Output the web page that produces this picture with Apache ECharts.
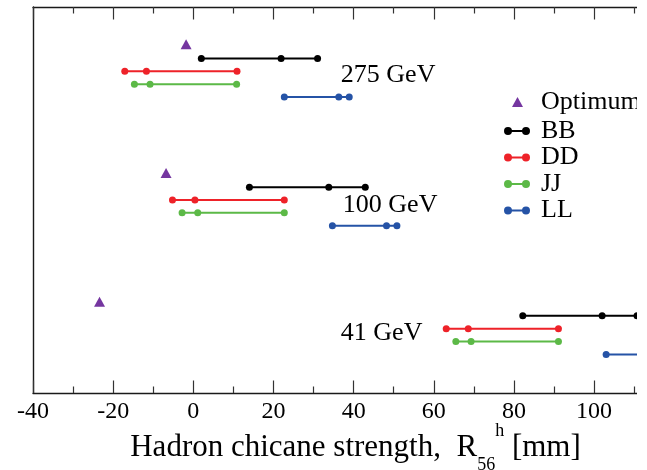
<!DOCTYPE html>
<html>
<head>
<meta charset="utf-8">
<script src="https://cdn.jsdelivr.net/npm/echarts@6/dist/echarts.min.js"></script>
<style>
  html, body { margin: 0; padding: 0; background: #fff; }
  #chart { width: 647px; height: 470px; }
</style>
</head>
<body>
<div id="chart"></div>
<script>
const xMin = -40;
const xMax = 110.7;
const majorTicks = [-40, -20, 0, 20, 40, 60, 80, 100];
const minorTicks = [-30, -10, 10, 30, 50, 70, 90, 110];

// beam energy groups, top to bottom
const energies = ["275 GeV", "100 GeV", "41 GeV"];
const energyLabelX = [36.8, 37.3, 36.8];
const energyLabelY = [5.3, 15.4, 25.35];

const optimumX = [-1.8, -6.8, -23.4];
const optimumY = [2.9, 12.9, 22.9];

// three points per group (R56 values, mm)
const bbX = [[2.0, 21.9, 31.0], [14.0, 33.8, 42.9], [82.2, 102.0, 110.7]];
const ddX = [[-17.1, -11.7, 10.9], [-5.2, 0.4, 22.7], [63.1, 68.6, 91.1]];
const jjX = [[-14.7, -10.8, 10.8], [-2.8, 1.1, 22.7], [65.5, 69.3, 91.1]];
const llX = [[22.7, 36.3, 38.9], [34.7, 48.2, 50.8], [103.0, 120.0]];
const bbY = [4, 14, 24];
const ddY = [5, 15, 25];
const jjY = [6, 16, 26];
const llY = [7, 17, 27];

const FONT = "'Liberation Serif', 'Times New Roman', serif";
const colors = {
  Optimum: "#7536a0",
  BB: "#000000",
  DD: "#ee2229",
  JJ: "#5cb947",
  LL: "#2553a6",
};

const chart = echarts.init(document.getElementById("chart"));

function rangeSeries(name, xs, ys) {
  return xs.map((row, i) => ({
    name: name,
    type: "line",
    xAxisIndex: 0,
    yAxisIndex: 0,
    symbol: "circle",
    symbolSize: 7,
    showSymbol: true,
    lineStyle: { width: 2, color: colors[name] },
    itemStyle: { color: colors[name] },
    data: row.map((x) => [x, ys[i]]),
  }));
}

function xAx(position, ticks, len, main) {
  return {
    type: "value",
    position: position,
    min: xMin,
    max: xMax,
    axisLine: {
      show: main,
      onZero: false,
      lineStyle: { color: "#1a1a1a", width: 1.4 },
    },
    axisTick: {
      show: true,
      inside: true,
      length: len,
      customValues: ticks,
      lineStyle: { color: "#333", width: 1.2 },
    },
    axisLabel: {
      show: main && position === "bottom",
      customValues: majorTicks,
      margin: 7,
      color: "#000",
      fontFamily: FONT,
      fontSize: 24,
    },
    splitLine: { show: false },
  };
}

const iconPath =
  "path://M0,4a4,4 0 1,1 8,0a4,4 0 1,1 -8,0Z M18,4a4,4 0 1,1 8,0a4,4 0 1,1 -8,0Z M4,3.1L22,3.1L22,4.9L4,4.9Z";

const option = {
  animation: false,
  backgroundColor: "#fff",
  grid: { left: 33, top: 7, right: 10, bottom: 77, outerBoundsMode: "none", containLabel: false },
  xAxis: [
    Object.assign(xAx("bottom", majorTicks, 12.5, true), {
      name: "{a|Hadron chicane strength,  R}{b|56}{c|h}{a| [mm]}",
      nameLocation: "middle",
      nameGap: 29,
      nameMoveOverlap: false,
      nameTextStyle: {
        padding: [0, 0, 0, 41],
        rich: {
          a: { fontFamily: FONT, fontSize: 31, color: "#000", lineHeight: 52 },
          b: { fontFamily: FONT, fontSize: 18, color: "#000", lineHeight: 18, verticalAlign: "bottom" },
          c: { fontFamily: FONT, fontSize: 18, color: "#000", lineHeight: 18, verticalAlign: "top" },
        },
      },
    }),
    xAx("bottom", minorTicks, 6.5, false),
    xAx("top", majorTicks, 12.5, true),
    xAx("top", minorTicks, 6.5, false),
  ],
  yAxis: {
    type: "value",
    min: 0,
    max: 30,
    inverse: true,
    axisLine: { show: true, onZero: false, lineStyle: { color: "#1a1a1a", width: 1.4 } },
    axisTick: { show: false },
    axisLabel: { show: false },
    splitLine: { show: false },
  },
  legend: [
    {
      data: ["Optimum"],
      orient: "vertical",
      left: 512,
      top: 89,
      padding: 0,
      icon: "triangle",
      itemWidth: 11,
      itemHeight: 10,
      textStyle: { fontFamily: FONT, fontSize: 26, lineHeight: 26, color: "#000", padding: [0, 0, 0, 13] },
    },
    {
      data: ["BB", "DD", "JJ", "LL"],
      orient: "vertical",
      left: 504,
      top: 118,
      padding: 0,
      itemGap: 0.5,
      icon: iconPath,
      itemWidth: 26,
      itemHeight: 8,
      textStyle: { fontFamily: FONT, fontSize: 26, lineHeight: 24, color: "#000", padding: [0, 0, 0, 6] },
    },
  ],
  graphic: [
    {
      type: "rect",
      left: 637,
      top: 0,
      z: 100,
      shape: { width: 10, height: 470 },
      style: { fill: "#fff" },
    },
  ],
  series: [
    {
      name: "Optimum",
      type: "scatter",
      symbol: "triangle",
      symbolSize: [11, 10],
      itemStyle: { color: colors.Optimum, opacity: 1 },
      data: optimumX.map((x, i) => [x, optimumY[i]]),
    },
    ...rangeSeries("BB", bbX, bbY),
    ...rangeSeries("DD", ddX, ddY),
    ...rangeSeries("JJ", jjX, jjY),
    ...rangeSeries("LL", llX, llY),
    {
      name: "energy",
      type: "scatter",
      symbolSize: 0,
      silent: true,
      itemStyle: { opacity: 1 },
      label: {
        show: true,
        position: "right",
        distance: 0,
        formatter: (p) => p.name,
        fontFamily: FONT,
        fontSize: 26,
        color: "#000",
      },
      data: energies.map((e, i) => ({ name: e, value: [energyLabelX[i], energyLabelY[i]] })),
    },
  ],
};

chart.setOption(option);
</script>
</body>
</html>
